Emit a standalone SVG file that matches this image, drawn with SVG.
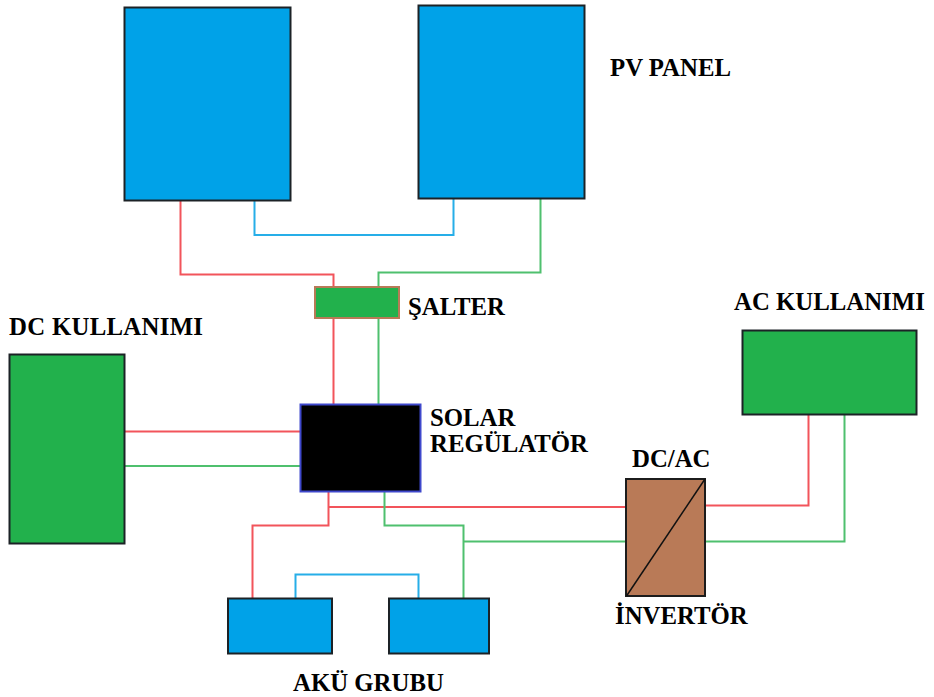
<svg xmlns="http://www.w3.org/2000/svg" width="934" height="697" viewBox="0 0 934 697">
<style>
.lbl{font-family:"Liberation Serif","Times New Roman",serif;font-weight:bold;font-size:24.800px;fill:#000}
.n{stroke:#1c2226;stroke-width:2}
.blue{fill:#00a2e8}
.green{fill:#22b14c}
.w{fill:none;stroke-width:2}
.r{stroke:#f2545b}
.g{stroke:#4fc06e}
.b{stroke:#26aee8}
</style>
<rect width="934" height="697" fill="#fff"/>
<g id="connectors">
<path class="w r" d="M180.500 200V274.500H333.500V405"/>
<path class="w b" d="M254.500 200V235H453.500V197"/>
<path class="w g" d="M540.500 197V272.500H378.500V405"/>
<path class="w r" d="M124 431.500H301"/>
<path class="w g" d="M124 466H301"/>
<path class="w r" d="M328.500 491V525.500H252.500V598"/>
<path class="w r" d="M328.500 507H627"/>
<path class="w g" d="M384.500 491V525.500H463.500V598"/>
<path class="w g" d="M463.500 541.500H627"/>
<path class="w b" d="M295.500 598V574.500H418.500V598"/>
<path class="w r" d="M705 505.500H808.500V414"/>
<path class="w g" d="M705 541.500H844.500V414"/>
</g>
<g id="pv-panel-1"><rect class="n blue" x="124.500" y="7.500" width="166" height="193"/></g>
<g id="pv-panel-2"><rect class="n blue" x="418.500" y="5.500" width="166" height="193"/><text class="lbl" x="610" y="76">PV PANEL</text></g>
<g id="salter"><rect x="315" y="287" width="84" height="31" fill="#22b14c" stroke="#b97a57" stroke-width="2"/><text class="lbl" x="408" y="315">ŞALTER</text></g>
<g id="dc-kullanimi"><rect class="n green" x="9.500" y="354.500" width="115" height="189"/><text class="lbl" x="9" y="335" textLength="194" lengthAdjust="spacing">DC KULLANIMI</text></g>
<g id="ac-kullanimi"><rect class="n green" x="742.500" y="330.500" width="174" height="84"/><text class="lbl" x="734" y="310">AC KULLANIMI</text></g>
<g id="solar-regulator"><rect x="300.500" y="404.500" width="120" height="87" fill="#000" stroke="#3f48cc" stroke-width="2"/><text class="lbl" x="430" y="426">SOLAR</text><text class="lbl" x="430" y="452">REGÜLATÖR</text></g>
<g id="inverter"><rect x="626" y="479" width="79" height="117" fill="#b97a57" stroke="#1c1c1c" stroke-width="2"/><path d="M626.500 596L705 479" stroke="#111" stroke-width="1.500" fill="none"/><text class="lbl" x="632" y="467">DC/AC</text><text class="lbl" x="615" y="624">İNVERTÖR</text></g>
<g id="battery-1"><rect class="n blue" x="228" y="598.500" width="104" height="55"/></g>
<g id="battery-2"><rect class="n blue" x="389" y="598.500" width="100" height="55"/></g>
<text class="lbl" x="293" y="691">AKÜ GRUBU</text>
</svg>
